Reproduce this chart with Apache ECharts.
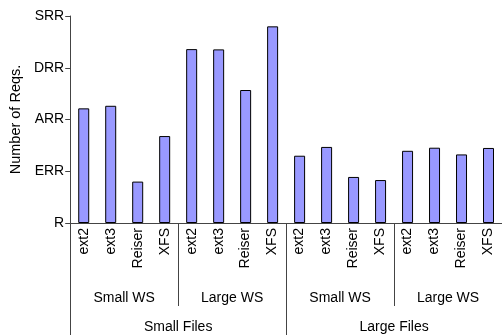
<!DOCTYPE html>
<html>
<head>
<meta charset="utf-8">
<script src="https://cdn.jsdelivr.net/npm/echarts@6/dist/echarts.min.js"></script>
<style>
  html, body { margin: 0; padding: 0; background: #fff; }
  #chart { width: 502px; height: 335px; }
</style>
</head>
<body>
<div id="chart"></div>
<script>
// File systems under each workload, left to right
const fsNames = ['ext2', 'ext3', 'Reiser', 'XFS', 'ext2', 'ext3', 'Reiser', 'XFS',
                 'ext2', 'ext3', 'Reiser', 'XFS', 'ext2', 'ext3', 'Reiser', 'XFS'];
// Working-set groups (four file systems each)
const wsGroups = ['Small WS', 'Large WS', 'Small WS', 'Large WS'];
// File-size groups (two working sets each)
const fileGroups = ['Small Files', 'Large Files'];
// Request counts per bar
const reqCounts = [443, 453, 160, 336, 672, 671, 514, 760,
                   260, 294, 178, 166, 279, 291, 265, 290];
// Y tick labels, bottom to top
const yTickLabels = ['R', 'ERR', 'ARR', 'DRR', 'SRR'];

const FONT = 'Arial, "Liberation Sans", sans-serif';
const AXIS_COLOR = '#444';

const chart = echarts.init(document.getElementById('chart'), null, { renderer: 'canvas' });

chart.setOption({
  animation: false,
  backgroundColor: '#ffffff',
  grid: { left: 67.5, right: -1, top: 16, bottom: 112, containLabel: false },
  xAxis: [
    {
      type: 'category',
      data: fsNames,
      position: 'bottom',
      offset: 0,
      axisLine: { show: true, lineStyle: { color: AXIS_COLOR, width: 1 } },
      axisTick: { show: false },
      axisLabel: {
        interval: 0, rotate: 90, margin: 5,
        fontFamily: FONT, fontSize: 14, color: '#000'
      }
    },
    {
      type: 'category',
      data: wsGroups,
      position: 'bottom',
      offset: 0,
      axisLine: { show: false },
      axisTick: { show: true, length: 83, lineStyle: { color: AXIS_COLOR, width: 1 } },
      axisLabel: {
        interval: 0, margin: 68,
        fontFamily: FONT, fontSize: 14, color: '#000'
      }
    },
    {
      type: 'category',
      data: fileGroups,
      position: 'bottom',
      offset: 0,
      axisLine: { show: false },
      axisTick: { show: true, length: 112, lineStyle: { color: AXIS_COLOR, width: 1 } },
      axisLabel: {
        interval: 0, margin: 97,
        fontFamily: FONT, fontSize: 14, color: '#000'
      }
    }
  ],
  yAxis: {
    type: 'value',
    min: 0, max: 800, interval: 200,
    name: 'Number of Reqs.',
    nameLocation: 'middle',
    nameGap: 36,
    nameTextStyle: { fontFamily: FONT, fontSize: 14.5, color: '#000' },
    axisLine: { show: true, lineStyle: { color: AXIS_COLOR, width: 1 } },
    axisTick: { show: true, length: 5, lineStyle: { color: AXIS_COLOR } },
    splitLine: { show: false },
    axisLabel: {
      margin: 6,
      fontFamily: FONT, fontSize: 14, color: '#000',
      formatter: function (v) { return yTickLabels[Math.round(v / 200)]; }
    }
  },
  series: [{
    type: 'bar',
    xAxisIndex: 0,
    data: reqCounts,
    barWidth: 11,
    itemStyle: { color: '#9999ff', borderColor: '#000', borderWidth: 1 }
  }]
});
</script>
</body>
</html>
